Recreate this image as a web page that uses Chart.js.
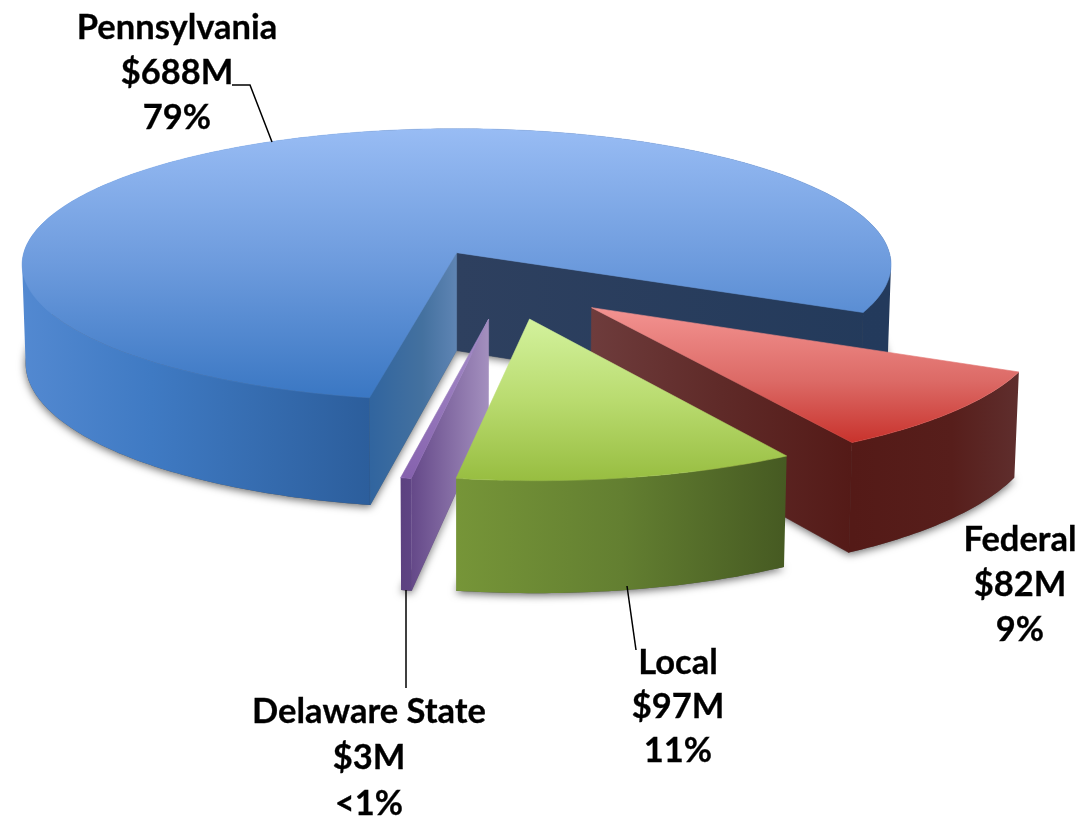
<!DOCTYPE html>
<html>
<head>
<meta charset="utf-8">
<style>
  html, body { margin: 0; background: #fff; }
  canvas { display: block; }
</style>
<script src="https://cdn.jsdelivr.net/npm/chart.js@4/dist/chart.umd.js"></script>
</head>
<body>
<canvas id="chart" width="1085" height="822"></canvas>
<script>
const categories = ["Pennsylvania", "Federal", "Local", "Delaware State"];
const amounts = [688, 82, 97, 3];
const percentLabels = ["79%", "9%", "11%", "<1%"];

// screen projection of the tilted pie plane, radius 1 = one pie radius
const view = { cx: 456, cy: 253.5, sx: 433, sy: 135, persp: 0.088, depth: 98, shrink: 0.992, shiftX: 0.116, shiftY: 0.218 };

// back to front
const paintOrder = [0, 1, 3, 2];

const sliceStyles = [
  {
    top: [129, 398, [[0, "#98bcf4"], [0.5, "#6d9bdd"], [1, "#3a77c3"]]],
    outer: [21, 891, [[0, "#5389d1"], [0.15, "#3f7ac3"], [0.4, "#2c5e9c"], [0.403, "#263c5e"], [1, "#233a5c"]]],
    startWall: [371, 457, [[0, "#31659f"], [0.6, "#44719f"], [1, "#5f85b4"]]],
    endWall: [457, 889, [[0, "#2e405f"], [1, "#233a5b"]]]
  },
  {
    top: [308, 441, [[0, "#f39391"], [0.55, "#dc6a66"], [1, "#c9342e"]]],
    outer: [852, 1018, [[0, "#541a17"], [0.6, "#571e1b"], [1, "#5f2e2d"]]],
    endWall: [591, 852, [[0, "#6e3c3c"], [0.5, "#5f2a28"], [1, "#541a17"]]]
  },
  {
    top: [319, 482, [[0, "#d3f29d"], [0.5, "#b9db6f"], [1, "#97bd40"]]],
    outer: [457, 786, [[0, "#769538"], [0.5, "#637f31"], [1, "#465a22"]]]
  },
  {
    top: [319, 480, [[0, "#a78fca"], [1, "#8561ad"]]],
    outer: [401, 412, [[0, "#5c4180"], [1, "#5f4484"]]],
    startWall: [412, 489, [[0, "#654989"], [1, "#a490bf"]]]
  }
];

// x, first baseline, line gap
const labelSpots = [
  [177, 39, 45],
  [1020, 551, 45],
  [678, 674, 44],
  [369, 723, 46]
];
const leaderLines = [
  [[232, 85], [250, 85], [272, 142]],
  [[627, 586], [636, 650]],
  [[406, 590], [406, 688]]
];

function project(X, Y, z) {
  const U = X + view.shiftX;
  const V = Y + view.shiftY;
  const w = 1 - view.persp * V;
  const k = z ? view.shrink : 1;
  return { x: view.cx + view.sx * U / w * k, y: view.cy + view.sy * V / w + z * view.depth / w };
}

function sliceGeometry(arc) {
  const mid = (arc.startAngle + arc.endAngle) / 2;
  const m = arc.options.offset / arc.outerRadius;
  const ox = Math.cos(mid) * m;
  const oy = Math.sin(mid) * m;
  const rim = [];
  const n = Math.max(2, Math.ceil((arc.endAngle - arc.startAngle) * 60));
  for (let i = 0; i <= n; i++) {
    const a = arc.startAngle + (arc.endAngle - arc.startAngle) * i / n;
    rim.push([ox + Math.cos(a), oy + Math.sin(a)]);
  }
  return { center: [ox, oy], rim };
}

function tracePoly(ctx, pts) {
  ctx.beginPath();
  pts.forEach((p, i) => (i ? ctx.lineTo(p.x, p.y) : ctx.moveTo(p.x, p.y)));
  ctx.closePath();
}

function linear(ctx, spec, vertical) {
  const g = vertical
    ? ctx.createLinearGradient(0, spec[0], 0, spec[1])
    : ctx.createLinearGradient(spec[0], 0, spec[1], 0);
  spec[2].forEach((s) => g.addColorStop(s[0], s[1]));
  return g;
}

function fillPoly(ctx, pts, fill) {
  tracePoly(ctx, pts);
  ctx.fillStyle = fill;
  ctx.fill();
  // hairline so neighbouring faces do not show a seam
  ctx.strokeStyle = fill;
  ctx.lineWidth = 0.6;
  ctx.stroke();
}

// all strips wound the same way in one path, so front and back of the rim add up
function fillRim(ctx, upper, lower, fill) {
  ctx.beginPath();
  for (let k = 0; k < upper.length - 1; k++) {
    let quad = [upper[k], upper[k + 1], lower[k + 1], lower[k]];
    let area = 0;
    quad.forEach((p, i) => {
      const q = quad[(i + 1) % 4];
      area += p.x * q.y - q.x * p.y;
    });
    if (area < 0) quad = quad.reverse();
    quad.forEach((p, i) => (i ? ctx.lineTo(p.x, p.y) : ctx.moveTo(p.x, p.y)));
    ctx.closePath();
  }
  ctx.fillStyle = fill;
  ctx.fill();
}

function wallPoly(geo, rimPoint) {
  return [
    project(geo.center[0], geo.center[1], 0),
    project(rimPoint[0], rimPoint[1], 0),
    project(rimPoint[0], rimPoint[1], 1),
    project(geo.center[0], geo.center[1], 1)
  ];
}

const pie3d = {
  id: "pie3d",
  beforeDatasetDraw(chart, args) {
    const ctx = chart.ctx;
    const arcs = args.meta.data;

    // soft shadow below every slice
    ctx.save();
    ctx.shadowColor = "rgba(0,0,0,0.6)";
    ctx.shadowBlur = 9;
    ctx.shadowOffsetY = 2;
    arcs.forEach((arc) => {
      const geo = sliceGeometry(arc);
      const pts = [geo.center].concat(geo.rim).map((p) => project(p[0], p[1], 1));
      tracePoly(ctx, pts);
      ctx.fillStyle = "#555";
      ctx.fill();
    });
    ctx.restore();

    paintOrder.forEach((i) => {
      const arc = arcs[i];
      const style = sliceStyles[i];
      const geo = sliceGeometry(arc);
      const upper = geo.rim.map((p) => project(p[0], p[1], 0));
      const lower = geo.rim.map((p) => project(p[0], p[1], 1));

      fillRim(ctx, upper, lower, linear(ctx, style.outer, false));
      if (style.endWall && Math.cos(arc.endAngle) > 0) {
        fillPoly(ctx, wallPoly(geo, geo.rim[geo.rim.length - 1]), linear(ctx, style.endWall, false));
      }
      if (style.startWall && Math.cos(arc.startAngle) < 0) {
        fillPoly(ctx, wallPoly(geo, geo.rim[0]), linear(ctx, style.startWall, false));
      }
      fillPoly(ctx, [project(geo.center[0], geo.center[1], 0)].concat(upper), linear(ctx, style.top, true));
    });
    return false;
  },
  afterDraw(chart) {
    const ctx = chart.ctx;
    ctx.save();
    ctx.strokeStyle = "#000";
    ctx.lineWidth = 1.5;
    leaderLines.forEach((line) => {
      ctx.beginPath();
      line.forEach((p, i) => (i ? ctx.lineTo(p[0], p[1]) : ctx.moveTo(p[0], p[1])));
      ctx.stroke();
    });
    ctx.fillStyle = "#000";
    ctx.font = "bold 34.5px Lato";
    ctx.textAlign = "center";
    ctx.lineWidth = 0.3;
    categories.forEach((name, i) => {
      const [x, y, gap] = labelSpots[i];
      [name, "$" + amounts[i] + "M", percentLabels[i]].forEach((text, k) => {
        ctx.fillText(text, x, y + gap * k);
        ctx.strokeText(text, x, y + gap * k);
      });
    });
    ctx.restore();
  }
};

new Chart(document.getElementById("chart"), {
  type: "pie",
  data: {
    labels: categories,
    datasets: [{ data: amounts, offset: 92, borderWidth: 0, backgroundColor: "#4f81bd" }]
  },
  options: {
    responsive: false,
    animation: false,
    rotation: 190.6,
    layout: { padding: { right: 171 } },
    plugins: { legend: { display: false }, tooltip: { enabled: false } }
  },
  plugins: [pie3d]
});
</script>
</body>
</html>
